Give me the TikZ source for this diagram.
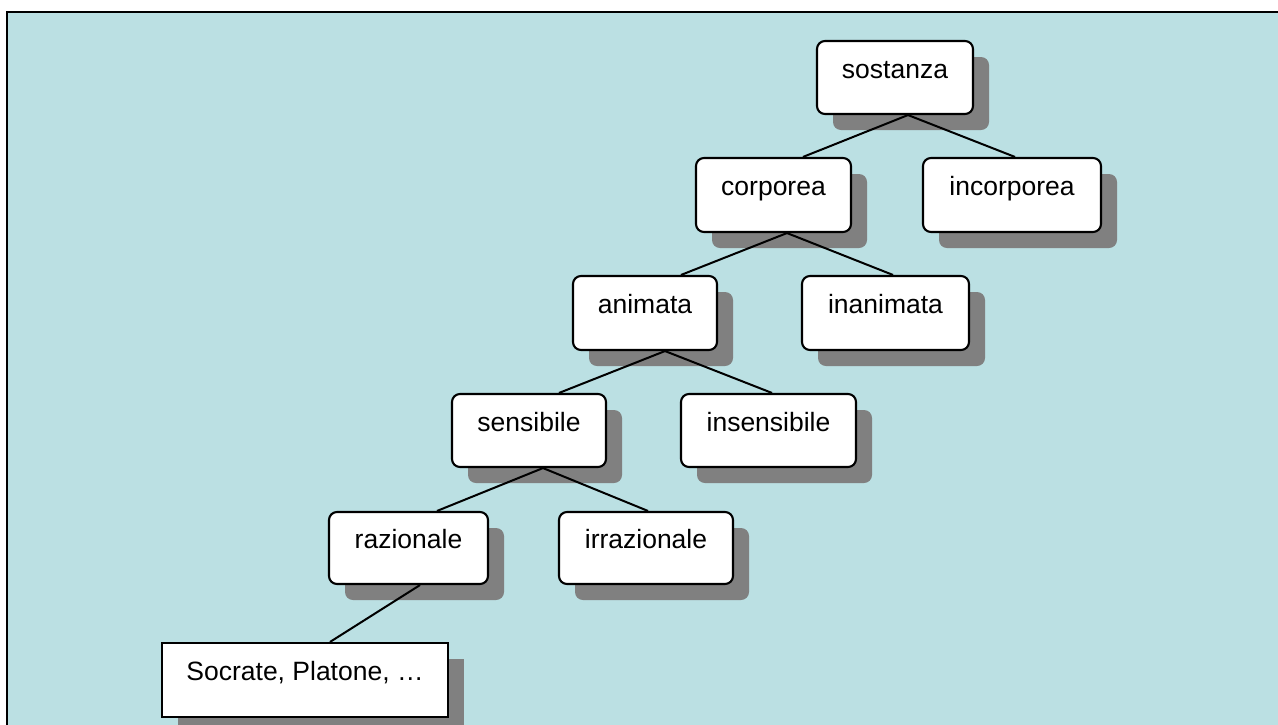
\documentclass[tikz,border=0pt]{standalone}
\usepackage{fontspec}
\setmainfont{Liberation Sans}
\usetikzlibrary{calc,shadows}
\definecolor{bgblue}{RGB}{187,224,227}
\definecolor{shadowgray}{RGB}{128,128,128}
\tikzset{
  box/.style={draw=black, line width=2.1pt, fill=white, rounded corners=8pt,
    font=\fontsize{26.5}{30}\selectfont, text height=10pt, text depth=9pt, inner sep=0pt,
    drop shadow={shadow xshift=16pt, shadow yshift=-16pt, fill=shadowgray, opacity=1}},
  leafbox/.style={box, rounded corners=0pt},
  link/.style={draw=black, line width=2pt}
}
\begin{document}
\begin{tikzpicture}[x=1pt,y=-1pt]
\useasboundingbox (0,0) rectangle (1278,724);
\clip (0,0) rectangle (1278,724);
\fill[white] (0,0) rectangle (1278,724);
\draw[fill=bgblue, draw=black, line width=2pt] (6.5,11.5) rectangle (1300,760);

\node[box, minimum width=156pt, minimum height=73pt] (sostanza) at (895,77.5) {sostanza};
\node[box, minimum width=155pt, minimum height=74pt] (corporea) at (773.5,195) {corporea};
\node[box, minimum width=178pt, minimum height=74pt] (incorporea) at (1012,195) {incorporea};
\node[box, minimum width=144pt, minimum height=74pt] (animata) at (645,313) {animata};
\node[box, minimum width=167pt, minimum height=74pt] (inanimata) at (885.5,313) {inanimata};
\node[box, minimum width=154pt, minimum height=73pt] (sensibile) at (529,430.5) {sensibile};
\node[box, minimum width=175pt, minimum height=73pt] (insensibile) at (768.5,430.5) {insensibile};
\node[box, minimum width=159pt, minimum height=72pt] (razionale) at (408.5,548) {razionale};
\node[box, minimum width=174pt, minimum height=72pt] (irrazionale) at (646,548) {irrazionale};
\node[leafbox, minimum width=286pt, minimum height=74pt] (socrate) at (305,680) {Socrate, Platone, …};

\draw[link] ($(sostanza.south)+(13,0)$) -- ($(corporea.north)+(29.5,0)$);
\draw[link] ($(sostanza.south)+(13,0)$) -- ($(incorporea.north)+(3,0)$);
\draw[link] ($(corporea.south)+(13.5,0)$) -- ($(animata.north)+(36,0)$);
\draw[link] ($(corporea.south)+(13.5,0)$) -- ($(inanimata.north)+(7.5,0)$);
\draw[link] ($(animata.south)+(20,0)$) -- ($(sensibile.north)+(30,0)$);
\draw[link] ($(animata.south)+(20,0)$) -- ($(insensibile.north)+(3.5,0)$);
\draw[link] ($(sensibile.south)+(14,0)$) -- ($(razionale.north)+(28.5,0)$);
\draw[link] ($(sensibile.south)+(14,0)$) -- ($(irrazionale.north)+(2,0)$);
\draw[link] ($(razionale.south)+(11.5,0)$) -- ($(socrate.north)+(25,0)$);
\end{tikzpicture}
\end{document}
